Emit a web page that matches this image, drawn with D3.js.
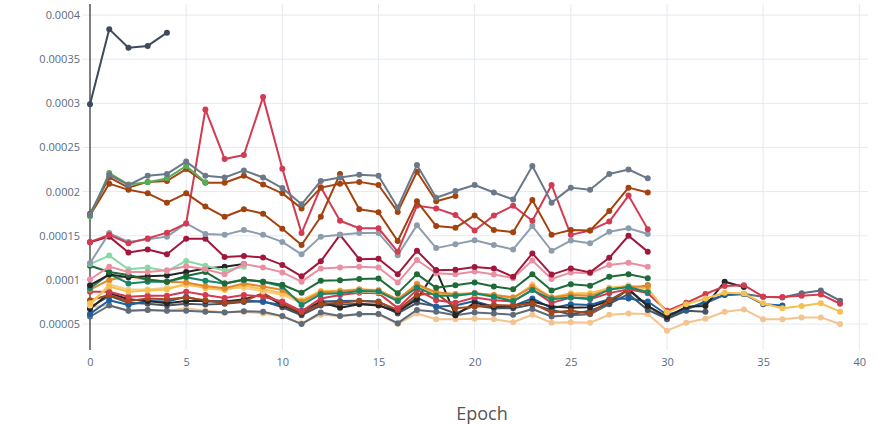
<!DOCTYPE html>
<html>
<head>
<meta charset="utf-8">
<title>Epoch chart</title>
<script src="https://cdn.jsdelivr.net/npm/d3@7"></script>
<style>
  body { margin: 0; background: #fff; }
  text { font-family: "Open Sans", sans-serif; }
</style>
</head>
<body>
<script>
// values in units of 1e-5, index = epoch
var xTicks = [0, 5, 10, 15, 20, 25, 30, 35, 40];
var yTicks = [5, 10, 15, 20, 25, 30, 35, 40];
var yTickLabels = ["0.00005", "0.0001", "0.00015", "0.0002", "0.00025", "0.0003", "0.00035", "0.0004"];

var slateTop = [29.9, 38.4, 36.3, 36.5, 38.0];
var grayTop = [17.35, 21.9, 20.75, 21.8, 22.0, 23.4, 21.8, 21.6, 22.4, 21.6, 20.4, 18.56, 21.2, 21.6, 21.9, 21.8, 18.2, 23.0, 19.3, 20.07, 20.75, 19.9, 19.1, 22.9, 18.75, 20.45, 20.2, 22.0, 22.5, 21.5];
var green = [17.2, 22.1, 20.8, 21.05, 21.5, 22.9, 21.05];
var brownA = [17.5, 21.6, 20.45, 21.1, 21.2, 22.55, 21.0, 21.0, 21.8, 20.8, 19.8, 18.1, 20.45, 20.9, 21.1, 20.75, 17.7, 22.25, 18.9, 19.5];
var brownB = [17.3, 20.9, 20.2, 19.8, 18.75, 19.8, 18.3, 17.15, 18.0, 17.5, 15.8, 13.95, 17.15, 22.0, 18.0, 17.65, 14.4, 18.9, 16.1, 15.9, 17.3, 15.65, 15.4, 19.05, 15.1, 15.65, 15.6, 17.8, 20.45, 19.9];
var crimson = [14.3, 15.1, 14.15, 14.7, 15.35, 16.4, 29.3, 23.7, 24.15, 30.7, 22.6, 15.3, 20.5, 16.7, 15.85, 15.85, 13.2, 18.4, 18.1, 17.35, 15.6, 17.3, 18.4, 16.7, 20.75, 15.1, 15.6, 16.6, 19.55, 15.75];
var grayBlue = [11.9, 15.3, 14.3, 14.6, 14.9, 16.4, 15.2, 15.1, 15.65, 15.1, 14.3, 12.9, 14.9, 15.1, 15.3, 15.3, 12.8, 16.2, 13.6, 14.05, 14.5, 13.95, 13.45, 16.1, 13.3, 14.45, 14.15, 15.45, 15.85, 15.2];
var darkRed = [14.25, 14.9, 13.1, 13.45, 12.9, 14.65, 14.65, 12.6, 12.7, 12.55, 11.7, 10.4, 12.1, 15.1, 12.35, 12.4, 10.65, 13.3, 11.1, 11.15, 11.45, 11.3, 10.35, 13.0, 10.6, 11.3, 10.85, 12.5, 15.0, 13.2];
var pink = [10.05, 11.5, 10.9, 10.9, 11.1, 11.55, 11.2, 10.65, 11.8, 11.4, 10.85, 9.8, 11.3, 11.4, 11.5, 11.4, 9.7, 12.25, 10.75, 10.65, 10.95, 10.6, 10.2, 12.2, 10.1, 10.85, 10.75, 11.7, 11.95, 11.5];
var lightGreen = [11.8, 12.75, 11.2, 11.4, 11.0, 12.15, 11.6, 11.05, 11.5];
var darkGreen = [11.6, 10.9, 10.55, 10.05, 9.8, 10.45, 10.9, 9.6, 10.05, 9.8, 9.45, 8.55, 9.9, 9.95, 10.1, 10.15, 8.5, 10.65, 9.1, 9.4, 9.7, 9.25, 8.95, 10.65, 8.8, 9.5, 9.35, 10.35, 10.65, 10.2];
var blackShort = [9.4, 10.6, 10.3, 10.4, 10.5, 10.9, 11.3, 11.5, 11.8];
var teal = [9.05, 10.65, 9.6, 9.8, 9.8, 10.3, 9.9, 9.6, 10.0, 9.8, 9.25, 7.15, 8.4, 8.5, 8.75, 8.7, 7.6, 9.15, 8.2, 8.2, 8.5, 8.1, 7.6, 8.85, 7.8, 8.0, 7.9, 8.9, 9.2, 8.6];
var orange = [8.9, 10.0, 10.45, 10.0, 9.8, 9.7, 9.3, 9.05, 9.6, 9.25, 8.85, 7.5, 8.6, 8.7, 8.9, 8.8, 7.8, 9.5, 8.6, 8.4, 8.5, 8.3, 8.0, 9.2, 8.0, 8.3, 8.2, 8.9, 9.2, 9.3];
var yellow = [7.35, 9.25, 8.65, 8.8, 8.9, 9.6, 9.05, 8.85, 9.35, 8.95, 8.5, 7.7, 8.75, 8.8, 8.95, 8.85, 7.8, 9.4, 8.3, 8.3, 8.5, 8.3, 8.0, 9.3, 8.0, 8.5, 8.5, 9.1, 9.3, 9.05, 6.3, 7.25, 7.9, 8.55, 8.45, 7.35, 6.8, 7.05, 7.35, 6.4];
var tan = [7.1, 9.5, 8.9, 8.9, 9.1, 9.4, 9.2, 9.0, 9.1, 8.7, 8.3, 7.4, 8.5, 8.6, 8.7, 8.6, 7.6, 9.6, 8.4, 8.2, 8.4, 8.1, 7.8, 9.5, 7.9, 8.3, 8.2, 9.0, 9.4, 8.8];
var redLow = [8.65, 8.65, 8.1, 8.2, 8.2, 8.65, 8.3, 7.95, 8.3, 8.1, 7.55, 6.45, 7.9, 8.3, 8.55, 8.5, 6.8, 8.9, 7.7, 7.4, 8.0, 7.7, 7.55, 8.9, 7.4, 8.0, 7.8, 8.5, 8.95, 8.5, 6.5, 7.4, 8.4, 9.3, 9.4, 8.1, 8.05, 8.2, 8.35, 7.3];
var black = [6.7, 8.5, 7.8, 7.6, 7.35, 7.6, 7.6, 7.5, 7.8, 8.4, 7.15, 6.2, 7.5, 6.85, 7.25, 7.1, 6.4, 7.8, 11.1, 6.0, 7.4, 6.95, 7.0, 7.55, 7.0, 6.85, 6.9, 7.65, 8.9, 7.05, 5.8, 6.95, 7.05, 9.8, 9.2];
var blue = [6.15, 7.7, 7.15, 7.6, 7.55, 8.1, 7.55, 7.6, 7.7, 7.5, 7.15, 6.5, 7.55, 7.6, 7.65, 7.55, 6.4, 8.0, 6.95, 7.1, 7.6, 6.95, 7.05, 7.9, 6.8, 7.25, 7.15, 7.8, 7.9, 7.55, 6.05, 6.65, 7.55, 8.3, 8.4, 7.25, 7.1];
var darkGray = [6.9, 8.2, 7.4, 7.3, 7.1, 7.3, 7.2, 7.3, 7.5, 7.6, 6.9, 6.0, 7.1, 7.2, 7.3, 7.2, 6.2, 7.4, 7.0, 6.2, 7.1, 6.8, 6.8, 7.2, 6.6, 6.1, 6.5, 7.3, 8.4, 6.6, 5.6, 6.5, 6.4];
var slateLow = [5.85, 7.1, 6.5, 6.6, 6.5, 6.5, 6.4, 6.3, 6.45, 6.4, 5.9, 5.0, 6.3, 5.9, 6.15, 6.15, 5.1, 6.6, 6.4, 6.0, 6.3, 6.2, 6.05, 6.7, 5.85, 6.0, 6.1, 7.25, 9.0, 7.05, 5.55, 6.8, 7.35, 8.3, 8.4, 8.1, 8.0, 8.5, 8.8, 7.65];
var peach = [6.9, 7.15, 6.5, 6.6, 6.5, 6.8, 6.5, 6.35, 6.4, 6.2, 5.85, 5.1, 6.05, 5.9, 6.05, 6.1, 5.0, 6.2, 5.55, 5.55, 5.6, 5.55, 5.2, 6.05, 5.15, 5.2, 5.15, 6.05, 6.2, 6.15, 4.25, 5.15, 5.6, 6.4, 6.65, 5.55, 5.55, 5.75, 5.75, 5.0];
var brownLow = [7.7, 8.3, 7.6, 7.9, 7.8, 8.0, 7.7, 7.4, 7.6, 8.5, 7.3, 6.3, 7.3, 7.4, 7.6, 7.5, 6.6, 8.3, 8.5, 6.8, 6.95, 7.15, 7.1, 7.35, 6.3, 6.5, 6.2, 7.7, 8.85, 9.4];

var series = [
  {values: peach, color: "#f4c490"},
  {values: slateLow, color: "#5d6b7b"},
  {values: darkGray, color: "#4a5361"},
  {values: blue, color: "#1f5f9b"},
  {values: black, color: "#262626"},
  {values: brownLow, color: "#a5471a"},
  {values: redLow, color: "#d43a50"},
  {values: tan, color: "#f5cd8a"},
  {values: yellow, color: "#f6c04e"},
  {values: orange, color: "#e3882c"},
  {values: teal, color: "#16876b"},
  {values: blackShort, color: "#252525"},
  {values: darkGreen, color: "#1e6a38"},
  {values: lightGreen, color: "#8ad8a4"},
  {values: pink, color: "#ea8fa2"},
  {values: darkRed, color: "#a1183c"},
  {values: grayBlue, color: "#8e9dad"},
  {values: crimson, color: "#d23b52"},
  {values: brownB, color: "#a2420f"},
  {values: brownA, color: "#a6440f"},
  {values: green, color: "#55ad55"},
  {values: grayTop, color: "#6a798a"},
  {values: slateTop, color: "#3c4a5b"}
];

var width = 879, height = 426;
var plotLeft = 82, plotRight = 868, plotTop = 4, plotBottom = 350;

var svg = d3.select("body").append("svg")
  .attr("width", width)
  .attr("height", height);

var x = d3.scaleLinear().domain([0, 40]).range([90, 859.3]);
var y = d3.scaleLinear().domain([0, 40]).range([368.2, 15]);

// grid
var grid = svg.append("g");
grid.selectAll(".vg").data(xTicks.filter(function (d) { return d !== 0; }))
  .enter().append("line")
  .attr("x1", function (d) { return x(d); })
  .attr("x2", function (d) { return x(d); })
  .attr("y1", plotTop).attr("y2", plotBottom)
  .attr("stroke", "#e4e9f0").attr("stroke-width", 1);
grid.selectAll(".hg").data(yTicks)
  .enter().append("line")
  .attr("x1", plotLeft).attr("x2", plotRight)
  .attr("y1", function (d) { return y(d); })
  .attr("y2", function (d) { return y(d); })
  .attr("stroke", "#e4e9f0").attr("stroke-width", 1);

// zero line
svg.append("line")
  .attr("x1", x(0)).attr("x2", x(0))
  .attr("y1", plotTop).attr("y2", plotBottom)
  .attr("stroke", "#555").attr("stroke-width", 1.5);

// axes
var xAxis = svg.append("g")
  .attr("transform", "translate(0," + (plotBottom + 4) + ")")
  .call(d3.axisBottom(x).tickValues(xTicks).tickSize(0).tickPadding(4));
xAxis.select(".domain").remove();
xAxis.selectAll("text").attr("fill", "#5c6b7e").attr("font-size", 11)
  .style("font-family", "'Open Sans', sans-serif");

var yAxis = svg.append("g")
  .attr("transform", "translate(" + (plotLeft - 2) + ",0)")
  .call(d3.axisLeft(y).tickValues(yTicks).tickSize(0).tickPadding(0)
    .tickFormat(function (d, i) { return yTickLabels[i]; }));
yAxis.select(".domain").remove();
yAxis.selectAll("text").attr("fill", "#5c6b7e").attr("font-size", 11)
  .style("font-family", "'Open Sans', sans-serif");

// lines
var line = d3.line()
  .x(function (d, i) { return x(i); })
  .y(function (d) { return y(d); });

var traces = svg.append("g").selectAll("g").data(series).enter().append("g");
traces.append("path")
  .attr("d", function (s) { return line(s.values); })
  .attr("fill", "none")
  .attr("stroke", function (s) { return s.color; })
  .attr("stroke-width", 2)
  .attr("stroke-linejoin", "round");
traces.selectAll("circle")
  .data(function (s) { return s.values.map(function (v, i) { return {v: v, i: i, c: s.color}; }); })
  .enter().append("circle")
  .attr("cx", function (d) { return x(d.i); })
  .attr("cy", function (d) { return y(d.v); })
  .attr("r", 3)
  .attr("fill", function (d) { return d.c; });

// title
svg.append("text")
  .attr("x", 482).attr("y", 420)
  .attr("text-anchor", "middle")
  .attr("font-size", 18)
  .attr("fill", "#555")
  .text("Epoch");
</script>
</body>
</html>
